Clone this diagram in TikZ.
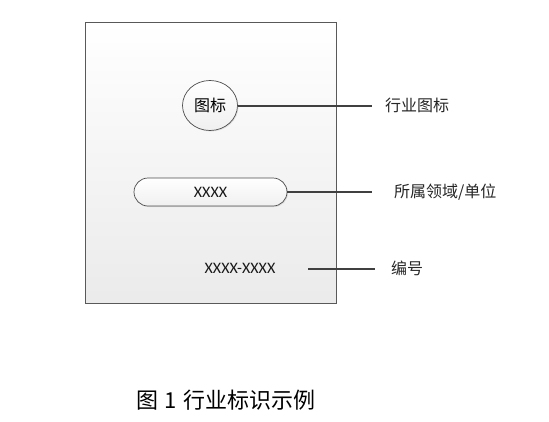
\documentclass[tikz,border=0pt]{standalone}
\usepackage{fontspec}
\setmainfont{Carlito}
\newfontfamily\cjk{Noto Sans CJK SC}
\usetikzlibrary{shapes.geometric,shapes.misc,shadows}
\begin{document}
\begin{tikzpicture}[x=1pt,y=-1pt,
  panel/.style={draw=black!65,line width=0.8pt,top color=white,bottom color=black!8,
    drop shadow={shadow xshift=1.2pt,shadow yshift=-1.2pt,opacity=0.25}},
  iconshape/.style={ellipse,draw=black!70,line width=0.7pt,minimum width=55pt,minimum height=50pt,inner sep=0pt,
    top color=white,bottom color=black!6,drop shadow={shadow xshift=1pt,shadow yshift=-1pt,opacity=0.2}},
  barshape/.style={rounded rectangle,draw=black!70,line width=0.7pt,minimum width=153pt,minimum height=28pt,inner sep=0pt,
    top color=white,bottom color=black!6,drop shadow={shadow xshift=1pt,shadow yshift=-1pt,opacity=0.2}},
  conn/.style={draw=black!75,line width=2pt},
  lbl/.style={anchor=west,inner sep=0pt,font=\cjk\fontsize{16}{19}\selectfont,text=black!85},
  txt/.style={inner sep=0pt,font=\fontsize{16}{19}\selectfont,text=black!90}]
\useasboundingbox (0,0) rectangle (549,421);
\node[panel,minimum width=251pt,minimum height=281pt,inner sep=0pt] (box) at (210.5,162.5) {};
\node[iconshape] (icon) at (210,105.5) {\cjk\fontsize{16}{19}\selectfont 图标};
\node[barshape] (bar) at (210.5,192) {};
\node[txt] (barTxt) at (bar.center) {XXXX};
\node[txt] (num) at (240,268.5) {XXXX-XXXX};
\coordinate (e1) at (372,105.5);
\coordinate (e2) at (372,192);
\coordinate (s3) at (308,269);
\coordinate (e3) at (375,269);
\node[lbl] (l1) at (385,105) {行业图标};
\node[lbl] (l2) at (394,192) {所属领域/单位};
\node[lbl] (l3) at (391,268) {编号};
\draw[conn] (icon.east) -- (e1);
\draw[conn] (bar.east) -- (e2);
\draw[conn] (s3) -- (e3);
\node[inner sep=0pt,anchor=west,font=\cjk\fontsize{22}{26}\selectfont,text=black] (cap) at (136,400) {图\hspace{6pt}1\hspace{7pt}行业标识示例};
\end{tikzpicture}
\end{document}
